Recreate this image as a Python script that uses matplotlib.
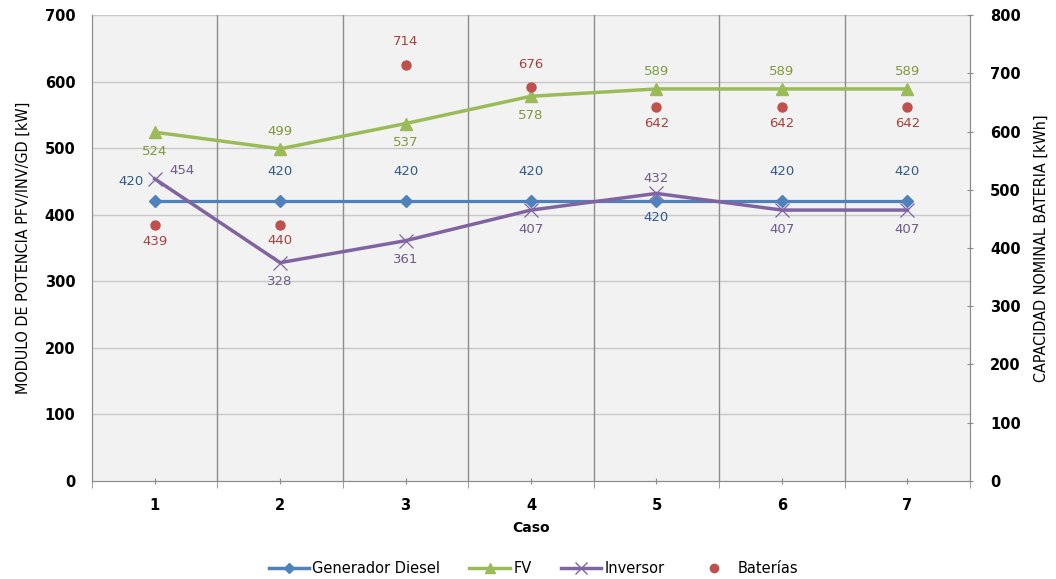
import os
import matplotlib
matplotlib.use("Agg")
import matplotlib.pyplot as plt
from matplotlib.lines import Line2D
from matplotlib import font_manager

casos = [1, 2, 3, 4, 5, 6, 7]
generador_diesel = [420, 420, 420, 420, 420, 420, 420]
fv = [524, 499, 537, 578, 589, 589, 589]
inversor = [454, 328, 361, 407, 432, 407, 407]
baterias = [439, 440, 714, 676, 642, 642, 642]

c_diesel, c_fv, c_inv, c_bat = "#4F81BD", "#9BBB59", "#8064A2", "#C0504D"
t_diesel, t_fv, t_inv, t_bat = "#2F5A8C", "#7F9A3E", "#6E5A8E", "#A8403D"

# bundled DejaVu faces for numbers and legend, a condensed face for axis titles
ttf_dir = os.path.join(matplotlib.get_data_path(), "fonts", "ttf")
regular_path = os.path.join(ttf_dir, "DejaVuSans.ttf")
bold_path = os.path.join(ttf_dir, "DejaVuSans-Bold.ttf")

cond_path = None
for f in font_manager.fontManager.ttflist:
    if ("Narrow" in f.name or "Condensed" in f.fname) and "Bold" not in f.fname \
            and "Oblique" not in f.fname and "Italic" not in f.fname:
        cond_path = f.fname
        break

def fp(path, size):
    return font_manager.FontProperties(fname=path, size=size)

title_font = fp(cond_path, 11.5) if cond_path else fp(regular_path, 10.5)

fig = plt.figure(figsize=(10.56, 5.79), dpi=100)
ax = fig.add_axes([0.0871, 0.1693, 0.8315, 0.8047])
ax2 = ax.twinx()

ax.set_facecolor("#F2F2F2")
ax.set_xlim(0.5, 7.5)
ax.set_ylim(0, 700)
ax2.set_ylim(0, 800)
ax.set_zorder(ax2.get_zorder() - 1)

# horizontal and vertical grid
for y in range(100, 701, 100):
    ax.axhline(y, color="#C8C8C8", lw=1.0, zorder=0)
for xb in [1.5, 2.5, 3.5, 4.5, 5.5, 6.5]:
    ax.axvline(xb, color="#8C8C8C", lw=1.0, zorder=0)

ax.plot(casos, generador_diesel, color=c_diesel, lw=2.3, marker="D", ms=6, zorder=3)
ax.plot(casos, fv, color=c_fv, lw=2.5, marker="^", ms=8, zorder=3)
ax.plot(casos, inversor, color=c_inv, lw=2.5, marker="x", ms=10, mew=0.9, zorder=3)
ax2.plot(casos, baterias, linestyle="none", marker="o", ms=6.5, color=c_bat, zorder=3)

lbl = dict(fontproperties=fp(regular_path, 9.5), ha="center")

# Generador Diesel labels
for i, (x, v) in enumerate(zip(casos, generador_diesel)):
    if i == 0:
        ax.annotate(str(v), (x, v), xytext=(-17, 10), textcoords="offset points",
                    color=t_diesel, va="bottom", **lbl)
    elif i == 4:
        ax.annotate(str(v), (x, v), xytext=(0, -7), textcoords="offset points",
                    color=t_diesel, va="top", **lbl)
    else:
        ax.annotate(str(v), (x, v), xytext=(0, 17), textcoords="offset points",
                    color=t_diesel, va="bottom", **lbl)

# FV labels
fv_up = [False, True, False, False, True, True, True]
for x, v, up in zip(casos, fv, fv_up):
    if up:
        ax.annotate(str(v), (x, v), xytext=(0, 8), textcoords="offset points",
                    color=t_fv, va="bottom", **lbl)
    else:
        ax.annotate(str(v), (x, v), xytext=(0, -9), textcoords="offset points",
                    color=t_fv, va="top", **lbl)

# Inversor labels
for i, (x, v) in enumerate(zip(casos, inversor)):
    if i == 0:
        ax.annotate(str(v), (x, v), xytext=(20, 1), textcoords="offset points",
                    color=t_inv, va="bottom", **lbl)
    elif i == 4:
        ax.annotate(str(v), (x, v), xytext=(0, 6), textcoords="offset points",
                    color=t_inv, va="bottom", **lbl)
    else:
        ax.annotate(str(v), (x, v), xytext=(0, -9), textcoords="offset points",
                    color=t_inv, va="top", **lbl)

# Baterías labels
bat_up = [False, False, True, True, False, False, False]
for x, v, up in zip(casos, baterias, bat_up):
    if up:
        ax2.annotate(str(v), (x, v), xytext=(0, 12), textcoords="offset points",
                     color=t_bat, va="bottom", **lbl)
    else:
        ax2.annotate(str(v), (x, v), xytext=(0, -7), textcoords="offset points",
                     color=t_bat, va="top", **lbl)

# axes styling
ax.set_xticks(casos)
ax.set_xticks([0.5, 1.5, 2.5, 3.5, 4.5, 5.5, 6.5, 7.5], minor=True)
ax.tick_params(axis="x", which="major", length=4, direction="inout", color="#8C8C8C", pad=10)
ax.tick_params(axis="x", which="minor", length=5, direction="out", color="#8C8C8C")
ax.set_yticks(range(0, 701, 100))
ax.tick_params(axis="y", length=0, pad=12)
ax2.set_yticks(range(0, 801, 100))
ax2.tick_params(axis="y", length=5, direction="inout", color="#8C8C8C", pad=12)

tick_font = fp(bold_path, 10.5)
ax.set_xticklabels([str(c) for c in casos], fontproperties=tick_font)
ax.set_yticklabels([str(v) for v in range(0, 701, 100)], fontproperties=tick_font)
ax2.set_yticklabels([str(v) for v in range(0, 801, 100)], fontproperties=tick_font)

for a in (ax, ax2):
    for s in a.spines.values():
        s.set_color("#8C8C8C")
    a.spines["top"].set_visible(False)

ax.set_xlabel("Caso", fontproperties=fp(bold_path, 10), labelpad=6)
ax.set_ylabel("MODULO DE POTENCIA PFV/INV/GD [kW]", fontproperties=title_font, labelpad=10)
ax2.set_ylabel("CAPACIDAD NOMINAL BATERIA [kWh]", fontproperties=title_font, labelpad=9)

handles = [
    Line2D([], [], color=c_diesel, lw=2.5, marker="D", ms=5),
    Line2D([], [], color=c_fv, lw=2.5, marker="^", ms=7),
    Line2D([], [], color=c_inv, lw=2.5, marker="x", ms=8, mew=1.0),
    Line2D([], [], color=c_bat, linestyle="none", marker="o", ms=6),
]
fig.legend(handles, ["Generador Diesel", "FV", "Inversor", "Baterías"],
           loc="center", bbox_to_anchor=(0.505, 0.018), ncol=4, frameon=False,
           prop=fp(regular_path, 10.5),
           handlelength=2.8, columnspacing=2.0, handletextpad=0.2)

fig.savefig("out.png", dpi=100, facecolor="white")
